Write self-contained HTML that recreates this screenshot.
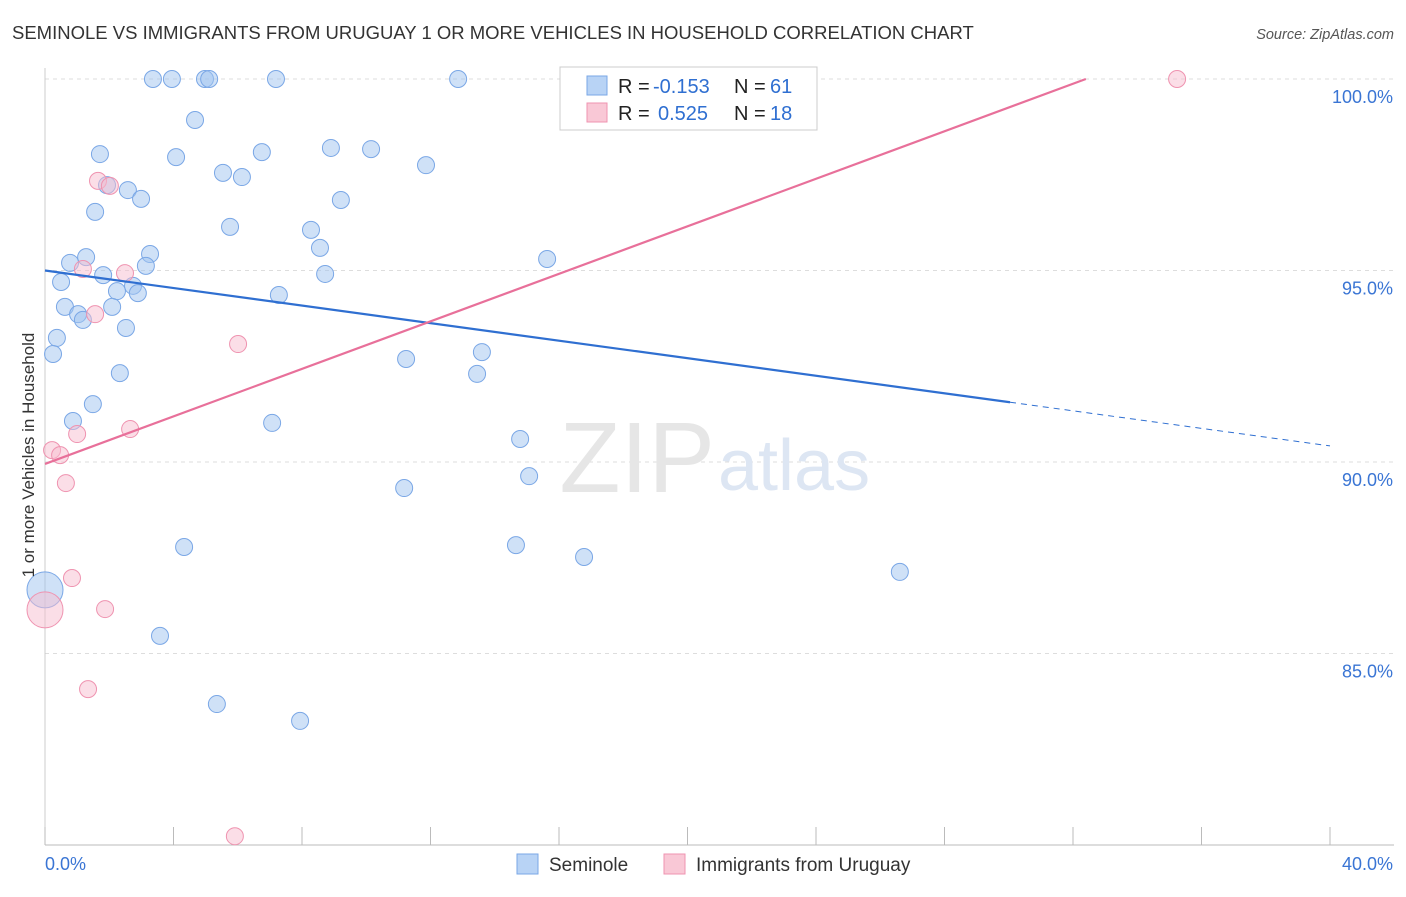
<!DOCTYPE html>
<html><head><meta charset="utf-8"><style>
body{margin:0;background:#fff;font-family:"Liberation Sans",sans-serif;}
svg text{font-family:"Liberation Sans",sans-serif;}
</style></head><body>
<svg width="1406" height="892" viewBox="0 0 1406 892">
<text x="12" y="39" font-size="18.5" fill="#333">SEMINOLE VS IMMIGRANTS FROM URUGUAY 1 OR MORE VEHICLES IN HOUSEHOLD CORRELATION CHART</text>
<text x="1394" y="39" font-size="14.5" fill="#555" font-style="italic" text-anchor="end">Source: ZipAtlas.com</text>
<g id="grid"></g>
<g id="axes"></g>
<text x="715" y="492" font-size="100" fill="#e6e6e6" text-anchor="end" font-family="Liberation Serif">ZIP</text>
<text x="718" y="490" font-size="72" fill="#dde6f3">atlas</text>
<g id="points"></g>
<g id="lines"></g>
<text transform="translate(34,455) rotate(-90)" font-size="17" fill="#333" text-anchor="middle">1 or more Vehicles in Household</text>
<g>
<rect x="560" y="67" width="257" height="63" fill="#fff" stroke="#ccc"/>
<rect x="587" y="76" width="20" height="19" fill="#b8d3f5" stroke="#7aa7e6"/>
<rect x="587" y="103" width="20" height="19" fill="#f9c8d6" stroke="#ef93b0"/>
<text x="618" y="93" font-size="20" fill="#222">R =</text>
<text x="653" y="93" font-size="20" fill="#2f6fd1">-0.153</text>
<text x="734" y="93" font-size="20" fill="#222">N =</text>
<text x="770" y="93" font-size="20" fill="#2f6fd1">61</text>
<text x="618" y="120" font-size="20" fill="#222">R =</text>
<text x="658" y="120" font-size="20" fill="#2f6fd1">0.525</text>
<text x="734" y="120" font-size="20" fill="#222">N =</text>
<text x="770" y="120" font-size="20" fill="#2f6fd1">18</text>
</g>
<g>
<rect x="517" y="854" width="21" height="20" fill="#b8d3f5" stroke="#7aa7e6"/>
<text x="549" y="871" font-size="19" fill="#333">Seminole</text>
<rect x="664" y="854" width="21" height="20" fill="#f9c8d6" stroke="#ef93b0"/>
<text x="696" y="871" font-size="19" fill="#333">Immigrants from Uruguay</text>
</g>
</svg>
<script>
const xTicks=[0,4,8,12,16,20,24,28,32,36,40];
const yTicks=[85,90,95,100];
const yTickLabels=["85.0%","90.0%","95.0%","100.0%"];
const semX=[3.36,3.95,4.98,5.11,7.19,12.86,20.02,4.67,1.71,4.08,6.75,8.90,10.15,11.86,5.54,6.13,1.93,2.58,2.99,1.56,9.21,5.76,8.28,8.56,3.27,1.28,0.78,3.14,1.81,8.72,0.50,2.74,2.24,2.89,7.28,0.62,2.09,1.03,1.18,2.52,0.37,0.25,11.24,13.60,2.33,13.45,1.49,0.87,7.07,14.79,15.07,11.18,4.33,14.66,16.78,26.61,0,3.58,5.35,7.94,15.63];
const semY=[100,100,100,100,100,100,100,98.93,98.04,97.96,98.09,98.20,98.17,97.75,97.55,97.44,97.23,97.10,96.87,96.53,96.84,96.14,96.06,95.59,95.43,95.35,95.20,95.12,94.88,94.91,94.70,94.60,94.46,94.41,94.36,94.05,94.05,93.86,93.71,93.50,93.24,92.82,92.69,92.87,92.32,92.30,91.51,91.07,91.02,90.60,89.63,89.32,87.78,87.83,87.52,87.13,86.66,85.46,83.68,83.24,95.30];
const uruX=[35.24,23.56,1.65,2.02,1.18,2.49,1.56,6.01,2.65,1.00,0.22,0.47,0.65,0.84,0,1.87,1.34,5.91];
const uruY=[100,100,97.34,97.21,95.04,94.93,93.86,93.08,90.86,90.73,90.31,90.18,89.45,86.97,86.14,86.16,84.07,80.23];
const semTrend=[95.0,90.42], semSolidEnd=30.04;
const uruTrend=[89.95,100], uruEnd=32.4;
const X0=45,X1=1330,Y100=79,PPY=38.3;
const sx=v=>X0+(X1-X0)*v/40;
const sy=v=>Y100+(100-v)*PPY;
const NS="http://www.w3.org/2000/svg";
function mk(t,a,p){const e=document.createElementNS(NS,t);for(const k in a)e.setAttribute(k,a[k]);p.appendChild(e);return e;}
const grid=document.getElementById('grid'),axes=document.getElementById('axes');
yTicks.forEach((t,i)=>{
 const l=mk('line',{x1:X0,x2:1394,y1:sy(t),y2:sy(t),stroke:'#ddd','stroke-dasharray':'4 4'},grid);
 
 
 const tx=mk('text',{x:1393,y:sy(t)+24,'font-size':18,fill:'#3a75d4','text-anchor':'end'},axes);
 tx.textContent=yTickLabels[i];
 
 
});
const xa=mk('line',{x1:X0,x2:1394,y1:845,y2:845,stroke:'#bbb'},axes);


const ya=mk('line',{x1:X0,x2:X0,y1:68,y2:845,stroke:'#ccc'},axes);


xTicks.forEach(t=>{
 const l=mk('line',{x1:sx(t),x2:sx(t),y1:827,y2:845,stroke:'#bbb'},axes);
 
 
});
const xl0=mk('text',{x:45,y:870,'font-size':18,fill:'#3a75d4'},axes);xl0.textContent='0.0%';


const xl1=mk('text',{x:1393,y:870,'font-size':18,fill:'#3a75d4','text-anchor':'end'},axes);xl1.textContent='40.0%';


const pts=document.getElementById('points');
semX.forEach((v,i)=>{
 const big=v===0;
 const c=mk('circle',{cx:sx(v),cy:sy(semY[i]),r:big?18:8.5,fill:'rgba(160,196,240,0.5)',stroke:'#7aa7e6','stroke-width':1},pts);
 
 
});
uruX.forEach((v,i)=>{
 const big=v===0;
 const c=mk('circle',{cx:sx(v),cy:sy(uruY[i]),r:big?18:8.5,fill:'rgba(248,190,208,0.5)',stroke:'#ef93b0','stroke-width':1},pts);
 
 
});
const ln=document.getElementById('lines');
const sv=x=>semTrend[0]+(semTrend[1]-semTrend[0])*x/40;
const a=mk('line',{x1:sx(0),y1:sy(sv(0)),x2:sx(semSolidEnd),y2:sy(sv(semSolidEnd)),stroke:'#2f6fd1','stroke-width':2.2},ln);


const b=mk('line',{x1:sx(semSolidEnd),y1:sy(sv(semSolidEnd)),x2:sx(40),y2:sy(sv(40)),stroke:'#2f6fd1','stroke-width':1,'stroke-dasharray':'6 5'},ln);


const c=mk('line',{x1:sx(0),y1:sy(uruTrend[0]),x2:sx(uruEnd),y2:sy(uruTrend[1]),stroke:'#e8709a','stroke-width':2.2},ln);


</script>
</body></html>
